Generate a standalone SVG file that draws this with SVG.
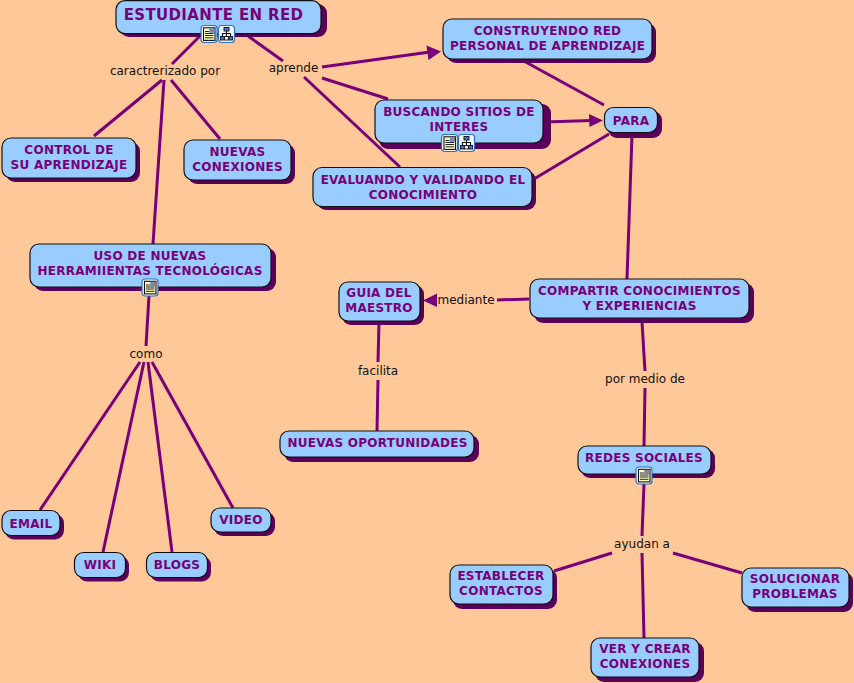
<svg xmlns="http://www.w3.org/2000/svg" width="854" height="683" viewBox="0 0 854 683">
<style>
.s{fill:#5a005a}
.b{fill:#99ccff;stroke:#111;stroke-width:1.2}
.t{font-family:"DejaVu Sans",Verdana,sans-serif;font-weight:bold;font-size:12px;letter-spacing:.26px;fill:#780078;text-anchor:middle}
.l{font-family:"DejaVu Sans",Verdana,sans-serif;font-size:12px;fill:#111;text-anchor:middle}
#connectors line{stroke:#780078;stroke-width:3;fill:none}
.a{fill:#780078}
</style>
<defs>
<g id="doc"><rect x="0.5" y="0.5" width="16" height="17" rx="3" fill="#f4f8ff" stroke="#2f6fc4" stroke-width="1.200"/><rect x="3" y="2.800" width="11.500" height="12.600" fill="#ffffc0" stroke="#111" stroke-width="1.100"/><path d="M4.500 6.500h4M4.500 8.500h8.500M4.500 10.500h8.500M4.500 12.800h8.500" stroke="#222" stroke-width="1"/><rect x="8.800" y="3.300" width="5.200" height="4.500" fill="#4f8fd0"/><rect x="11" y="3.800" width="2.500" height="2.500" fill="#d07070"/></g>
<g id="map"><rect x="0.5" y="0.5" width="16" height="17" rx="3" fill="#f4f8ff" stroke="#2f6fc4" stroke-width="1.200"/><path d="M8.500 5.500v6M4.500 12V8.500h8V12" stroke="#111" stroke-width="1.100" fill="none"/><rect x="6" y="2.500" width="5" height="3.500" fill="#3c78c8" stroke="#111" stroke-width=".9"/><rect x="2.500" y="11.500" width="3.800" height="3.500" fill="#3c78c8" stroke="#111" stroke-width=".9"/><rect x="6.700" y="11.500" width="3.600" height="3.500" fill="#fff" stroke="#111" stroke-width=".9"/><rect x="10.700" y="11.500" width="3.800" height="3.500" fill="#3c78c8" stroke="#111" stroke-width=".9"/></g>
</defs>
<rect width="854" height="683" fill="#ffc898"/>
<g id="connectors">
<line x1="200" y1="36" x2="172" y2="64"/>
<line x1="248" y1="36" x2="283" y2="61"/>
<line x1="162" y1="80" x2="94" y2="136"/>
<line x1="164" y1="80" x2="153" y2="244"/>
<line x1="171" y1="80" x2="220" y2="139"/>
<line x1="322" y1="67" x2="430" y2="52"/>
<line x1="322" y1="78" x2="388" y2="99"/>
<line x1="304" y1="77" x2="400" y2="167"/>
<line x1="522" y1="60" x2="604" y2="105"/>
<line x1="544" y1="122" x2="592" y2="120.500"/>
<line x1="534" y1="179" x2="609" y2="134"/>
<line x1="632" y1="135" x2="627" y2="279"/>
<line x1="529" y1="299" x2="497" y2="300"/>
<line x1="436" y1="300" x2="433" y2="300"/>
<line x1="642" y1="322" x2="645" y2="371"/>
<line x1="645" y1="388" x2="644" y2="446"/>
<line x1="644" y1="484" x2="642" y2="536"/>
<line x1="612" y1="553" x2="554" y2="571"/>
<line x1="642" y1="553" x2="644" y2="638"/>
<line x1="673" y1="553" x2="742" y2="573"/>
<line x1="379" y1="322" x2="378" y2="362"/>
<line x1="378" y1="380" x2="377" y2="431"/>
<line x1="149" y1="296" x2="146" y2="346"/>
<line x1="140" y1="362" x2="40" y2="510"/>
<line x1="144" y1="362" x2="103" y2="552"/>
<line x1="148" y1="362" x2="172" y2="552"/>
<line x1="152" y1="362" x2="233" y2="508"/>
</g>
<path class="a" d="M441 51.500L426.500 45.500 428.500 60zM603 120.500L589 114 589.500 127zM423 300.500L437 293.500 437 307z"/>
<g id="n-estudiante"><rect class="s" x="120" y="4" width="207" height="33" rx="9"/><rect class="b" x="116" y="0.600" width="205" height="33" rx="9"/><text class="t" x="213.500" y="20" style="font-size:15px;letter-spacing:.36px">ESTUDIANTE EN RED</text><use href="#doc" x="200.500" y="25"/><use href="#map" x="218" y="25"/></g>
<g id="n-construyendo"><rect class="s" x="447" y="23" width="209" height="40" rx="9"/><rect class="b" x="443" y="19" width="209" height="40" rx="9"/><text class="t" x="547.500" y="35">CONSTRUYENDO RED</text><text class="t" x="547.500" y="50">PERSONAL DE APRENDIZAJE</text></g>
<g id="n-control"><rect class="s" x="6" y="142" width="134" height="40" rx="9"/><rect class="b" x="2" y="138" width="134" height="40" rx="9"/><text class="t" x="69" y="154">CONTROL DE</text><text class="t" x="69" y="169">SU APRENDIZAJE</text></g>
<g id="n-nuevas"><rect class="s" x="188" y="144" width="107" height="40" rx="9"/><rect class="b" x="184" y="140" width="107" height="40" rx="9"/><text class="t" x="237.500" y="156">NUEVAS</text><text class="t" x="237.500" y="171">CONEXIONES</text></g>
<g id="n-buscando"><rect class="s" x="379" y="104" width="172" height="45" rx="9"/><rect class="b" x="375" y="100" width="168" height="43" rx="9"/><text class="t" x="459" y="116">BUSCANDO SITIOS DE</text><text class="t" x="459" y="131">INTERES</text><use href="#doc" x="441" y="134"/><use href="#map" x="458" y="134"/></g>
<g id="n-para"><rect class="s" x="608" y="111" width="54" height="27" rx="9"/><rect class="b" x="604.500" y="107.500" width="53" height="25" rx="9"/><text class="t" x="631" y="124.500">PARA</text></g>
<g id="n-evaluando"><rect class="s" x="317" y="171" width="219" height="39" rx="9"/><rect class="b" x="313" y="167.500" width="219" height="39" rx="9"/><text class="t" x="423" y="184">EVALUANDO Y VALIDANDO EL</text><text class="t" x="423" y="198.500">CONOCIMIENTO</text></g>
<g id="n-uso"><rect class="s" x="34" y="248" width="242" height="43" rx="9"/><rect class="b" x="30" y="244" width="241" height="43" rx="9"/><text class="t" x="150" y="260">USO DE NUEVAS</text><text class="t" x="150" y="274.500">HERRAMIIENTAS TECNOLÓGICAS</text><use href="#doc" x="141.500" y="278.500"/></g>
<g id="n-compartir"><rect class="s" x="534" y="283" width="220" height="40" rx="9"/><rect class="b" x="530" y="279" width="219" height="39" rx="9"/><text class="t" x="639.500" y="295">COMPARTIR CONOCIMIENTOS</text><text class="t" x="639.500" y="310">Y EXPERIENCIAS</text></g>
<g id="n-guia"><rect class="s" x="342" y="285" width="82" height="40" rx="9"/><rect class="b" x="339" y="282" width="81" height="39" rx="9"/><text class="t" x="379" y="297">GUIA DEL</text><text class="t" x="379" y="312">MAESTRO</text></g>
<g id="n-oportunidades"><rect class="s" x="284" y="435" width="195" height="27" rx="9"/><rect class="b" x="280" y="431" width="194" height="26" rx="9"/><text class="t" x="377.500" y="447">NUEVAS OPORTUNIDADES</text></g>
<g id="n-redes"><rect class="s" x="581" y="449" width="134" height="29" rx="9"/><rect class="b" x="578" y="446" width="133" height="28" rx="9"/><text class="t" x="644" y="462">REDES SOCIALES</text><use href="#doc" x="635.500" y="466.500"/></g>
<g id="n-email"><rect class="s" x="5" y="514" width="59" height="25.500" rx="9"/><rect class="b" x="2" y="510.500" width="58" height="25" rx="9"/><text class="t" x="31" y="528">EMAIL</text></g>
<g id="n-video"><rect class="s" x="214" y="512" width="61" height="24" rx="9"/><rect class="b" x="211" y="508" width="60" height="24" rx="9"/><text class="t" x="241" y="524">VIDEO</text></g>
<g id="n-wiki"><rect class="s" x="78" y="556" width="51" height="25.500" rx="9"/><rect class="b" x="74.500" y="552.500" width="51" height="25" rx="9"/><text class="t" x="100" y="569">WIKI</text></g>
<g id="n-blogs"><rect class="s" x="150" y="556" width="61" height="25.500" rx="9"/><rect class="b" x="146.500" y="552.500" width="61" height="25" rx="9"/><text class="t" x="177" y="569">BLOGS</text></g>
<g id="n-establecer"><rect class="s" x="453" y="569" width="104" height="40" rx="9"/><rect class="b" x="450" y="565" width="103" height="39" rx="9"/><text class="t" x="501" y="580">ESTABLECER</text><text class="t" x="501" y="595">CONTACTOS</text></g>
<g id="n-solucionar"><rect class="s" x="746" y="572" width="107" height="40" rx="9"/><rect class="b" x="742" y="568" width="107" height="39" rx="9"/><text class="t" x="795" y="583">SOLUCIONAR</text><text class="t" x="795" y="598">PROBLEMAS</text></g>
<g id="n-ver"><rect class="s" x="595" y="642" width="109" height="40" rx="9"/><rect class="b" x="591" y="638" width="108" height="39" rx="9"/><text class="t" x="645" y="653">VER Y CREAR</text><text class="t" x="645" y="668">CONEXIONES</text></g>
<g id="labels">
<text class="l" x="165" y="75">caractrerizado por</text>
<text class="l" x="293.500" y="72">aprende</text>
<text class="l" x="466" y="304">mediante</text>
<text class="l" x="378" y="375">facilita</text>
<text class="l" x="645" y="383">por medio de</text>
<text class="l" x="146" y="358">como</text>
<text class="l" x="642" y="548">ayudan a</text>
</g>
</svg>
